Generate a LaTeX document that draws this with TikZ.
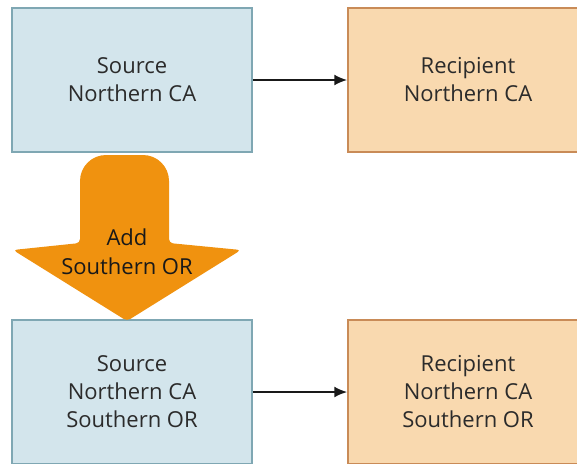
\documentclass[tikz,border=0pt]{standalone}
\usepackage{fontspec}
\setmainfont{Open Sans}
\definecolor{srcfill}{HTML}{D3E5EC}
\definecolor{srcdraw}{HTML}{7FA7B3}
\definecolor{rcpfill}{HTML}{F9D9AF}
\definecolor{rcpdraw}{HTML}{C98B57}
\definecolor{addfill}{HTML}{F0920F}
\definecolor{txt}{HTML}{2B2B2B}
\tikzset{
  boxbase/.style={rectangle, line width=1.5pt, minimum width=240pt, minimum height=144pt, align=center, text=txt, font=\fontsize{22}{28}\selectfont},
  srcbox/.style={boxbase, fill=srcfill, draw=srcdraw},
  rcpbox/.style={boxbase, fill=rcpfill, draw=rcpdraw},
  conn/.style={-{Latex[length=13pt,width=11pt]}, line width=2pt, black!90},
  addtext/.style={align=center, text=black!90, font=\fontsize{22}{29}\selectfont}
}
\usetikzlibrary{arrows.meta}
\begin{document}
\begin{tikzpicture}[x=1pt,y=-1pt]
\useasboundingbox (0,0) rectangle (577,463);
\clip (0,0) rectangle (577,463);
\node[srcbox] (s1) at (132,80) {Source\\Northern CA};
\node[rcpbox] (r1) at (468,80) {Recipient\\Northern CA};
\node[srcbox] (s2) at (132,392) {Source\\Northern CA\\Southern OR};
\node[rcpbox] (r2) at (468,392) {Recipient\\Northern CA\\Southern OR};
\draw[conn] (s1) -- (r1);
\draw[conn] (s2) -- (r2);
\fill[addfill, rounded corners=4pt] (80,243) [rounded corners=26pt] -- (80,155) -- (169,155) [rounded corners=4pt] -- (169,243) -- (241,250) -- (127,321) -- (13,250) -- cycle;
\node[addtext] (add) at (127,252) {Add\\Southern OR};
\end{tikzpicture}
\end{document}
